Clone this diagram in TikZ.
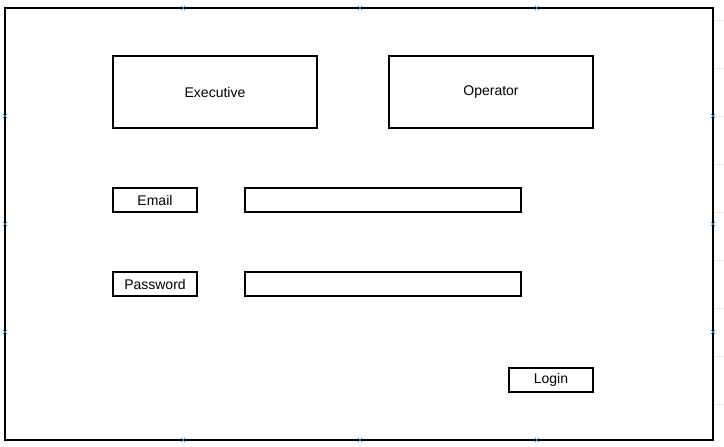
\documentclass[tikz,border=0pt]{standalone}
\usepackage{fontspec}
\setmainfont{Liberation Sans}
\begin{document}
\begin{tikzpicture}[x=1pt,y=-1pt,
  box/.style={draw,line width=1.2pt,inner sep=0pt},
  lbl/.style={font=\fontsize{14}{16}\selectfont},
  mk/.style={draw=cyan!70!blue,line width=0.6pt}]
\useasboundingbox (0,0) rectangle (724,447);
\fill[white] (0,0) rectangle (724,447);
\foreach \y in {20,68,116,164,212,260,308,356,404} \draw[gray!15] (713,\y) -- (724,\y);
\draw[box,line width=1.4pt] (5,8) rectangle (713,440);
\foreach \p in {(183,8),(360,8),(537,8),(183,440),(360,440),(537,440),(5,116),(5,224),(5,332),(713,116),(713,224),(713,332)}
  \draw[mk] \p ++(-2,-2) -- ++(4,4) \p ++(-2,2) -- ++(4,-4);
\draw[box] (113,56) rectangle (317,128) node[lbl,midway] (exe) {Executive};
\draw[box] (389,56) rectangle (593,128) node[lbl,midway] (op) {Operator};
\draw[box] (113,188) rectangle (197,212) node[lbl,midway] (em) {Email};
\draw[box] (245,188) rectangle (521,212) coordinate (emf);
\draw[box] (113,272) rectangle (197,296) node[lbl,midway] (pw) {Password};
\draw[box] (245,272) rectangle (521,296) coordinate (pwf);
\draw[box] (509,368) rectangle (593,392) node[lbl,midway] (lg) {Login};
\end{tikzpicture}
\end{document}
